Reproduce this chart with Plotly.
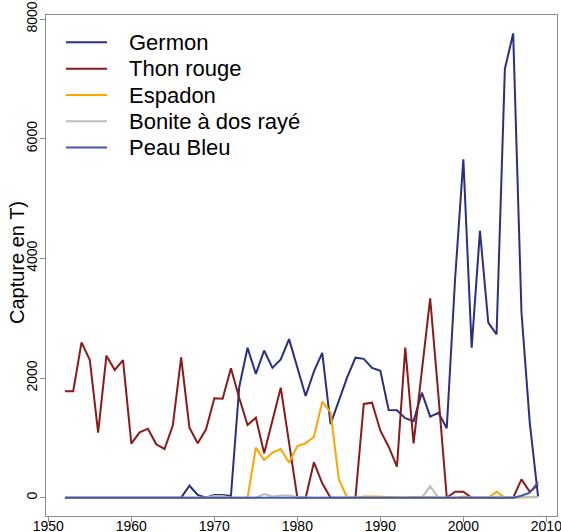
import plotly.graph_objects as go

# Annual catches (tonnes), 1952-2009
years = list(range(1952, 2010))

germon = [0] * 15 + [
    200, 45, 0, 45, 45, 30,                      # 1967-1972
    1850, 2507, 2070, 2460, 2170, 2310, 2650,    # 1973-1979
    2180, 1700, 2110, 2420, 1230, 1630, 2010,    # 1980-1986
    2340, 2320, 2170, 2120, 1465, 1460, 1330,    # 1987-1993
    1280, 1755, 1355, 1420, 1160, 3650, 5655,    # 1994-2000
    2505, 4460, 2925, 2730, 7165, 7760, 3100,    # 2001-2007
    1250, 20,                                    # 2008-2009
]

thon_rouge = [
    1780, 1780, 2597, 2300, 1087, 2373, 2134, 2300,   # 1952-1959
    903, 1093, 1153, 892, 814, 1210, 2346, 1170,      # 1960-1967
    909, 1143, 1661, 1655, 2165, 1665, 1215, 1337,    # 1968-1975
    742, 1298, 1838, 920, 0, 0, 591, 240,             # 1976-1983
    0, 0, 0, 0, 1566, 1588, 1120, 852,                # 1984-1991
    518, 2507, 909, 2120, 3332, 1700, 0, 100,         # 1992-1999
    100, 0, 0, 0, 0, 0, 0, 307,                       # 2000-2007
    100, 212,                                         # 2008-2009
]

espadon = [0] * 23 + [
    836, 630, 752, 814, 585, 864, 909, 1020,     # 1975-1982
    1604, 1427, 307, 0, 0, 20, 20, 15,           # 1983-1990
    10, 10, 5, 10, 10, 10, 5, 0,                 # 1991-1998
    0, 20, 0, 0, 0, 100, 0, 0,                   # 1999-2006
    0, 0, 10,                                    # 2007-2009
]

bonite = [0] * 18 + [
    30, 30, 0, 0, 0, 0, 60, 20, 35, 35, 10,      # 1970-1980
] + [0] * 15 + [
    190,                                         # 1996
] + [0] * 10 + [10, 10, 10]                      # 1997-2009

peau_bleu = [0] * 55 + [33, 84, 260]             # 2007-2009

series = [
    ("Germon", germon, "#2A2F84"),
    ("Thon rouge", thon_rouge, "#8B1A1A"),
    ("Espadon", espadon, "#FFA500"),
    ("Bonite à dos rayé", bonite, "#BEBEBE"),
    ("Peau Bleu", peau_bleu, "#4159AE"),
]

x_ticks = list(range(1950, 2011, 10))
y_ticks = list(range(0, 8001, 2000))

FONT = "Liberation Sans, Arial, Helvetica, sans-serif"
AXIS_GREY = "#8c8c8c"

fig = go.Figure()
for name, values, color in series:
    fig.add_trace(go.Scatter(
        x=years, y=values, mode="lines", name=name,
        line=dict(color=color, width=2),
        showlegend=False,
    ))

# R-style 4% padding around the data range
x_lo, x_hi = min(years), max(years)
x_pad = 0.04 * (x_hi - x_lo)

common_axis = dict(
    showgrid=False, zeroline=False, automargin=False,
    showline=True, mirror=True, linecolor=AXIS_GREY, linewidth=1,
    ticks="outside", ticklen=5, tickcolor=AXIS_GREY, tickwidth=1,
    tickfont=dict(family=FONT, size=14, color="black"),
    ticklabeloverflow="allow",
)

fig.update_xaxes(
    range=[x_lo - x_pad, x_hi + x_pad],
    tickvals=x_ticks, ticktext=[str(v) for v in x_ticks],
    ticklabelstandoff=-8,
    **common_axis,
)
fig.update_yaxes(
    range=[-306, 8067],
    tickvals=y_ticks, ticktext=[str(v) for v in y_ticks],
    tickangle=-90,
    ticklabelstandoff=-3,
    **common_axis,
)

W, H = 561, 532
ML, MR, MT, MB = 46, 4, 15, 16
PW, PH = W - ML - MR, H - MT - MB


def px_x(px):
    return (px - ML) / PW


def px_y(py):
    return (H - MB - py) / PH


shapes = []
annotations = []

# Hand-placed legend (no frame), top-left inside the plot
row_y = [42.3, 68.7, 95.0, 121.3, 147.6]
for (name, _, color), ry in zip(series, row_y):
    shapes.append(dict(
        type="line", xref="paper", yref="paper",
        x0=px_x(66), x1=px_x(107), y0=px_y(ry), y1=px_y(ry),
        line=dict(color=color, width=2),
    ))
    annotations.append(dict(
        xref="paper", yref="paper", x=px_x(127), y=px_y(ry),
        xanchor="left", yanchor="middle", showarrow=False,
        text=name, font=dict(family=FONT, size=22, color="black"),
    ))

# Y axis title
annotations.append(dict(
    xref="paper", yref="paper", x=px_x(17), y=px_y(263),
    xanchor="center", yanchor="middle", showarrow=False,
    text="Capture en T)", textangle=-90,
    font=dict(family=FONT, size=20, color="black"),
))

fig.update_layout(
    width=W, height=H,
    margin=dict(l=ML, r=MR, t=MT, b=MB, pad=0, autoexpand=False),
    paper_bgcolor="white", plot_bgcolor="white",
    shapes=shapes, annotations=annotations,
    showlegend=False,
)

fig.write_html("out.html")
